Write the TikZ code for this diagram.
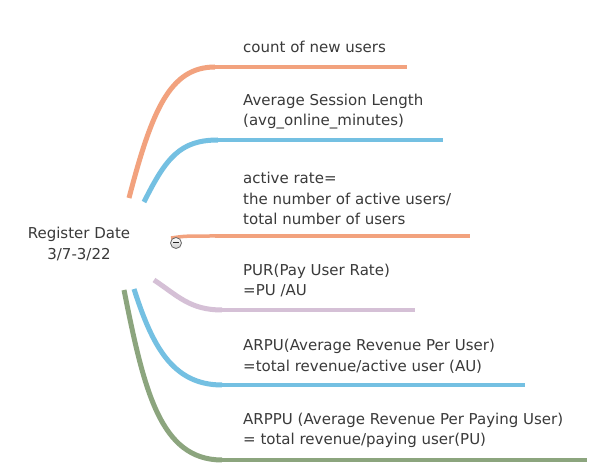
\documentclass[tikz,border=0pt]{standalone}
\usepackage{fontspec}
\setmainfont{DejaVu Sans}
\definecolor{orc}{HTML}{F2A27E}
\definecolor{blc}{HTML}{74C0E2}
\definecolor{puc}{HTML}{D5C0D6}
\definecolor{grc}{HTML}{8CA57E}
\definecolor{txc}{HTML}{3A3A3A}
\begin{document}
\begin{tikzpicture}[x=1pt,y=-1pt,
  lbl/.style={anchor=west,inner sep=0pt,align=left,text=txc,font=\fontsize{15}{20.5}\selectfont},
  curv/.style={line width=5pt},
  hline/.style={line width=3.5pt}]
\useasboundingbox[fill=white] (0,0) rectangle (606,476);
% root
\node[inner sep=0pt,align=center,text=txc,font=\fontsize{15}{20.5}\selectfont] (root) at (79,244) {Register Date\\3/7-3/22};
% leaves
\node[lbl] (l1) at (243,47) {count of new users};
\node[lbl] (l2) at (243,111.5) {Average Session Length\\(avg\_online\_minutes)};
\node[lbl] (l3) at (243,198.5) {active rate=\\the number of active users/\\total number of users};
\node[lbl] (l4) at (243,280.5) {PUR(Pay User Rate)\\=PU /AU};
\node[lbl] (l5) at (243,356.5) {ARPU(Average Revenue Per User)\\=total revenue/active user (AU)};
\node[lbl] (l6) at (243,430.5) {ARPPU (Average Revenue Per Paying User)\\= total revenue/paying user(PU)};
% branch coordinates
\coordinate (s1) at (129,198); \coordinate (b1) at (215,67);  \coordinate (e1) at (407,67);
\coordinate (s2) at (144,202); \coordinate (b2) at (218,140); \coordinate (e2) at (443,140);
\coordinate (s3) at (171,238); \coordinate (b3) at (215,236); \coordinate (e3) at (470,236);
\coordinate (s4) at (154,280); \coordinate (b4) at (222,310); \coordinate (e4) at (415,310);
\coordinate (s5) at (134,289); \coordinate (b5) at (222,385); \coordinate (e5) at (525,385);
\coordinate (s6) at (124,290); \coordinate (b6) at (222,460); \coordinate (e6) at (587,460);
% branches
\draw[curv,orc] (s1) .. controls (152,110) and (170,67) .. (b1);
\draw[hline,orc] (b1) -- (e1);
\draw[curv,blc] (s2) .. controls (166,158) and (180,140) .. (b2);
\draw[hline,blc] (b2) -- (e2);
\draw[orc,line width=3.5pt] (s3) .. controls (185,236) .. (b3);
\draw[hline,orc] (b3) -- (e3);
\draw[curv,puc] (s4) .. controls (178,296) and (190,310) .. (b4);
\draw[hline,puc] (b4) -- (e4);
\draw[curv,blc] (s5) .. controls (152,345) and (172,385) .. (b5);
\draw[hline,blc] (b5) -- (e5);
\draw[curv,grc] (s6) .. controls (144,390) and (160,460) .. (b6);
\draw[hline,grc] (b6) -- (e6);
% collapse button
\node[circle,draw=gray!80!black,line width=0.8pt,inner sep=0pt,minimum size=11pt,top color=white,bottom color=gray!40] (btn) at (176,243) {};
\draw[line width=1pt,gray!30!black] ([xshift=-3pt]btn.center) -- ([xshift=3pt]btn.center);
\end{tikzpicture}
\end{document}
